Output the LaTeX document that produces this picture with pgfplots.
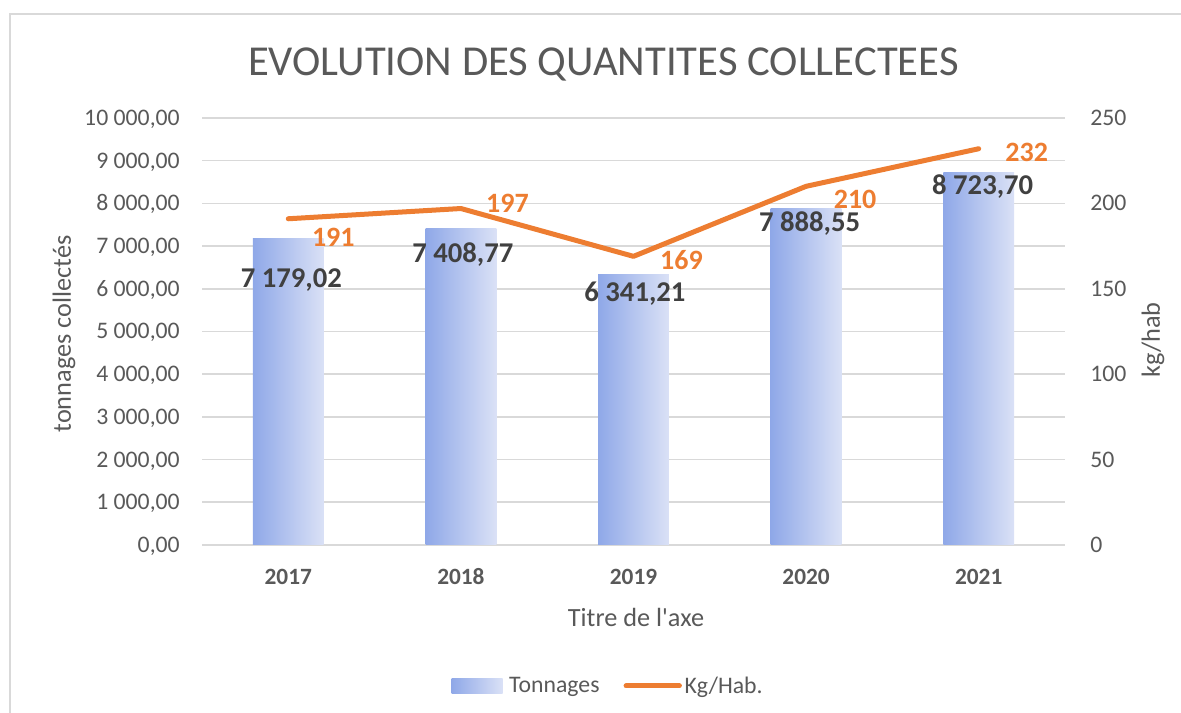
\documentclass[border=0pt]{standalone}
\usepackage{fontspec}
\setmainfont{Carlito}
\usepackage{pgfplots}
\usepackage{pgfplotstable}
\pgfplotsset{compat=1.18}
\definecolor{gridgray}{HTML}{D9D9D9}
\definecolor{txtgray}{HTML}{595959}
\definecolor{lbldark}{HTML}{404040}
\definecolor{orangeL}{HTML}{ED7D31}
\definecolor{barA}{HTML}{8FA8E8}
\definecolor{barB}{HTML}{DAE1F6}

\pgfplotstableread[col sep=semicolon]{
x;t;lab;dx;dy
0;7179.02;7 179,02;2.25;-31.1
1;7408.77;7 408,77;1.5;-19.8
2;6341.21;6 341,21;1.1;-14.9
3;7888.55;7 888,55;2.6;-11.4
4;8723.70;8 723,70;3.0;-10.9
}\bars

\pgfplotstableread[col sep=semicolon]{
x;k;lab;dx;dy
0;191;191;33.75;-14.0
1;197;197;34.9;4.1
2;169;169;36.0;-2.6
3;210;210;36.75;-9.6
4;232;232;36.0;-2.8
}\kgs

\begin{document}
\begin{tikzpicture}
\useasboundingbox (0,0) rectangle (885.75pt,534.75pt);
\draw[gridgray, line width=1.5pt] (7.5pt,-2pt) -- (7.5pt,524pt) -- (890pt,524pt);

\begin{axis}[
  at={(151.5pt,126pt)}, anchor=south west,
  scale only axis, width=647.25pt, height=320.25pt,
  xmin=-0.5, xmax=4.5, ymin=0, ymax=10000,
  scaled y ticks=false,
  axis line style={draw=none},
  major tick length=0pt,
  ytick={0,1000,...,10000},
  yticklabels={{0,00},{1 000,00},{2 000,00},{3 000,00},{4 000,00},{5 000,00},{6 000,00},{7 000,00},{8 000,00},{9 000,00},{10 000,00}},
  yticklabel style={font=\fontsize{17.8pt}{20pt}\selectfont, text=txtgray, inner sep=0pt, anchor=base east, xshift=-16.5pt, yshift=-5.6pt},
  xtick={0,1,2,3,4},
  xticklabels={2017,2018,2019,2020,2021},
  xticklabel style={font=\fontsize{17.5pt}{20pt}\selectfont\bfseries, text=txtgray, inner sep=0pt, anchor=base, yshift=-30pt},
  ymajorgrids, grid style={gridgray, line width=1.2pt},
  clip=false,
  legend style={at={(0.471,-0.330)}, anchor=center, draw=none, fill=none,
    font=\fontsize{17.8pt}{20pt}\selectfont, text=txtgray, legend columns=2,
    /tikz/every even column/.append style={column sep=16pt}},
  legend cell align=left,
  every axis plot/.append style={bar shift=0pt},
]
\addplot[ybar, bar width=0.41, draw=none, left color=barA, right color=barB,
  legend image code/.code={\path[left color=barA, right color=barB] (0pt,-5.6pt) rectangle (38.25pt,5.6pt);}]
  coordinates {(0,7179.02)};
\addlegendentry{\hspace{3pt}Tonnages}
\addlegendimage{legend image code/.code={\draw[orangeL, line width=3.75pt, line cap=round] (0pt,0pt) -- (40pt,0pt);}}
\addlegendentry{Kg/Hab.}
\addplot[ybar, bar width=0.41, draw=none, left color=barA, right color=barB, forget plot] coordinates {(1,7408.77)};
\addplot[ybar, bar width=0.41, draw=none, left color=barA, right color=barB, forget plot] coordinates {(2,6341.21)};
\addplot[ybar, bar width=0.41, draw=none, left color=barA, right color=barB, forget plot] coordinates {(3,7888.55)};
\addplot[ybar, bar width=0.41, draw=none, left color=barA, right color=barB, forget plot] coordinates {(4,8723.70)};
\addplot[draw=none, mark=none, forget plot,
  nodes near coords, point meta=explicit symbolic,
  visualization depends on={\thisrow{dx} \as \dx},
  visualization depends on={\thisrow{dy} \as \dy},
  every node near coord/.append style={anchor=center, inner sep=0pt, xshift=\dx pt, yshift=\dy pt,
    font=\fontsize{21.5pt}{24pt}\selectfont\bfseries, text=lbldark}]
  table[x=x, y=t, meta=lab] {\bars};
\end{axis}

\begin{axis}[
  at={(151.5pt,126pt)}, anchor=south west,
  scale only axis, width=647.25pt, height=320.25pt,
  xmin=-0.5, xmax=4.5, ymin=0, ymax=250,
  axis line style={draw=none},
  axis x line=none,
  axis y line*=right,
  major tick length=0pt,
  ytick={0,50,...,250},
  yticklabels={0,50,100,150,200,250},
  yticklabel style={font=\fontsize{17.8pt}{20pt}\selectfont, text=txtgray, inner sep=0pt, anchor=base west, xshift=18.75pt, yshift=-5.6pt},
  clip=false,
]
\addplot[orangeL, line width=3.75pt, mark=none, line join=round, line cap=round]
  table[x=x, y=k] {\kgs};
\addplot[draw=none, mark=none,
  nodes near coords, point meta=explicit symbolic,
  visualization depends on={\thisrow{dx} \as \dx},
  visualization depends on={\thisrow{dy} \as \dy},
  every node near coord/.append style={anchor=center, inner sep=0pt, xshift=\dx pt, yshift=\dy pt,
    font=\fontsize{21pt}{24pt}\selectfont\bfseries, text=orangeL}]
  table[x=x, y=k, meta=lab] {\kgs};
\end{axis}

\node[anchor=base, text=txtgray, font=\fontsize{32pt}{36pt}\selectfont, inner sep=0pt] at (452.6pt,477.75pt) {EVOLUTION DES QUANTITES COLLECTEES};
\node[rotate=90, anchor=center, text=txtgray, font=\fontsize{19.7pt}{22pt}\selectfont, inner sep=0pt] at (48pt,284.25pt) {tonnages collectés};
\node[rotate=90, anchor=center, text=txtgray, font=\fontsize{19.7pt}{22pt}\selectfont, inner sep=0pt] at (864.75pt,279.75pt) {kg/hab};
\node[anchor=center, text=txtgray, font=\fontsize{19.7pt}{22pt}\selectfont, inner sep=0pt] at (477pt,72pt) {Titre de l\textquotesingle axe};
\end{tikzpicture}
\end{document}
